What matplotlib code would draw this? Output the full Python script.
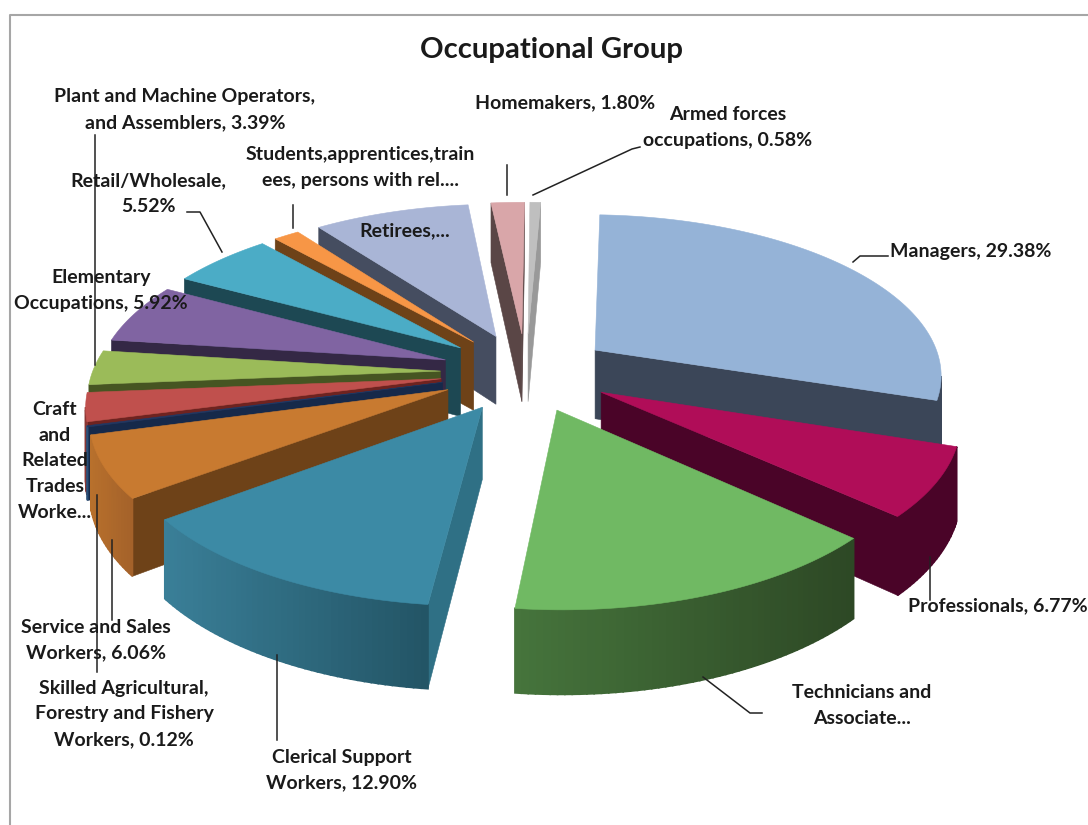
import numpy as np
import matplotlib

matplotlib.use("Agg")
import matplotlib.pyplot as plt
from matplotlib.colors import to_rgb
from matplotlib.patches import Polygon

plt.rcParams['font.family'] = ['Lato', 'DejaVu Sans']

# data, clockwise from the top
categories = ["Armed forces occupations", "Managers", "Professionals", "Technicians and Associate Professionals",
              "Clerical Support Workers", "Service and Sales Workers", "Skilled Agricultural, Forestry and Fishery Workers",
              "Craft and Related Trades Workers", "Plant and Machine Operators, and Assemblers",
              "Elementary Occupations", "Retail/Wholesale", "Students,apprentices,trainees, persons with rel.",
              "Retirees", "Homemakers"]
values = [0.58, 29.38, 6.77, 14.95, 12.90, 6.06, 0.12, 2.8, 3.39, 5.92, 5.52, 1.4, 8.41, 1.80]

top_colors = ["#BFBFBF", "#95B3D7", "#B00D58", "#70B963", "#3C8AA5", "#C87A30", "#1F3864",
              "#C0504D", "#9BBB59", "#8064A2", "#4BACC6", "#F79646", "#A9B5D6", "#D9A6A9"]
radial_colors = ["#999999", "#3B4658", "#4A0428", "#2D4825", "#2F7085", "#6E4218", "#16294A",
                 "#6E2320", "#465522", "#342845", "#1D4853", "#6E4218", "#454D60", "#5A4646"]
arc_left = ["#A6A6A6", "#3B4658", "#4A0428", "#46753C", "#3A7F98", "#B8702C", "#2A5078",
            "#8A3633", "#6E8540", "#5A4672", "#357A8C", "#B06A2A", "#6B7590", "#8A6A6C"]
arc_right = ["#A6A6A6", "#3B4658", "#4A0428", "#2D4825", "#235566", "#A4622A", "#2A5078",
             "#8A3633", "#6E8540", "#5A4672", "#357A8C", "#B06A2A", "#6B7590", "#8A6A6C"]

labels = ["Armed forces\noccupations, 0.58%", "Managers, 29.38%", "Professionals, 6.77%", "Technicians and\nAssociate...",
          "Clerical Support\nWorkers, 12.90%", "Service and Sales\nWorkers, 6.06%",
          "Skilled Agricultural,\nForestry and Fishery\nWorkers, 0.12%", "Craft\nand\nRelated\nTrades\nWorke...",
          "Plant and Machine Operators,\nand Assemblers, 3.39%", "Elementary\nOccupations, 5.92%",
          "Retail/Wholesale,\n5.52%", "Students,apprentices,train\nees, persons with rel....", "Retirees,...", "Homemakers, 1.80%"]
label_x = [728, 971, 998, 862, 342, 96, 124, 55, 185, 101, 148, 360, 405, 565]
label_y = [127.5, 251, 606, 705.5, 770, 640, 714, 461, 109.5, 290.5, 194, 167.5, 231, 103]

# leader lines, in picture pixels
leaders = [([640, 632, 533], [147, 149, 195]), ([888, 860, 853], [256, 256, 262]), ([930, 930], [600, 557]),
           ([762, 750, 703], [713, 713, 677]), ([277, 277], [740, 655]), ([112, 112], [620, 540]),
           ([97, 97], [672, 495]), ([95, 95], [135, 365]), ([187, 200, 222], [212, 212, 252]),
           ([293, 293], [205, 228]), ([507, 507], [165, 195])]

# pie geometry
cx, cy = 526, 372
rx, ry = 348, 160
persp = 0.14
explode = 0.246
depth = 70
start_angle = 0.4  # first slice starts just right of north


def project(x, y, down=0.0):
    s = 1 / (1 + persp * y)
    return cx + rx * x * s, cy - ry * y * s + depth * s * down


def mix(a, b, t):
    a, b = np.array(to_rgb(a)), np.array(to_rgb(b))
    return tuple(a + (b - a) * t)


def draw_slice(ax, a0, a1, i):
    mid = np.radians((a0 + a1) / 2)
    ox, oy = explode * np.sin(mid), explode * np.cos(mid)
    angles = np.radians(np.arange(a0, a1, 1.0))
    angles = np.append(angles, np.radians(a1))
    xs = ox + np.sin(angles)
    ys = oy + np.cos(angles)

    apex = (ox, oy)
    rim = list(zip(xs, ys))

    # radial faces first, then the rim, only those that face the viewer
    for p, q in [(apex, rim[0]), (rim[-1], apex)]:
        if project(*q)[0] < project(*p)[0]:
            quad = [project(*p), project(*q), project(*q, 1), project(*p, 1)]
            ax.add_patch(Polygon(quad, fc=radial_colors[i], ec=radial_colors[i], lw=0.4))

    rim_x = [project(*r)[0] for r in rim]
    xmin, xmax = min(rim_x), max(rim_x)
    for p, q in zip(rim[:-1], rim[1:]):
        if project(*q)[0] < project(*p)[0]:
            t = 1 - (project(*p)[0] - xmin) / max(xmax - xmin, 1)
            c = mix(arc_right[i], arc_left[i], t)
            quad = [project(*p), project(*q), project(*q, 1), project(*p, 1)]
            ax.add_patch(Polygon(quad, fc=c, ec=c, lw=1.2))

    top = [project(*apex)] + [project(*r) for r in rim]
    ax.add_patch(Polygon(top, fc=top_colors[i], ec=top_colors[i], lw=0.4))


fig = plt.figure(figsize=(10.88, 8.25), dpi=100)
ax = fig.add_axes([0, 0, 1, 1])
ax.set_xlim(0, 1088)
ax.set_ylim(825, 0)
ax.axis("off")

ax.plot([10, 10, 1088], [825, 15, 15], color="#A6A6A6", lw=1.5)

total = sum(values)
edges = start_angle + np.concatenate([[0], np.cumsum(values)]) * 360 / total
mids = np.radians((edges[:-1] + edges[1:]) / 2)

# back slices first
for i in np.argsort(-np.cos(mids)):
    draw_slice(ax, edges[i], edges[i + 1], i)

for lx, ly in leaders:
    ax.plot(lx, ly, color="#222222", lw=1.1)

for txt, x, y in zip(labels, label_x, label_y):
    ax.text(x, y, txt, ha="center", va="center", fontsize=14, color="#1A1A1A",
            fontweight="bold", linespacing=1.62)

ax.text(551, 50, "Occupational Group", ha="center", va="center", fontsize=21.1, fontweight="bold", color="#1A1A1A")

fig.savefig("out.png", dpi=100)
